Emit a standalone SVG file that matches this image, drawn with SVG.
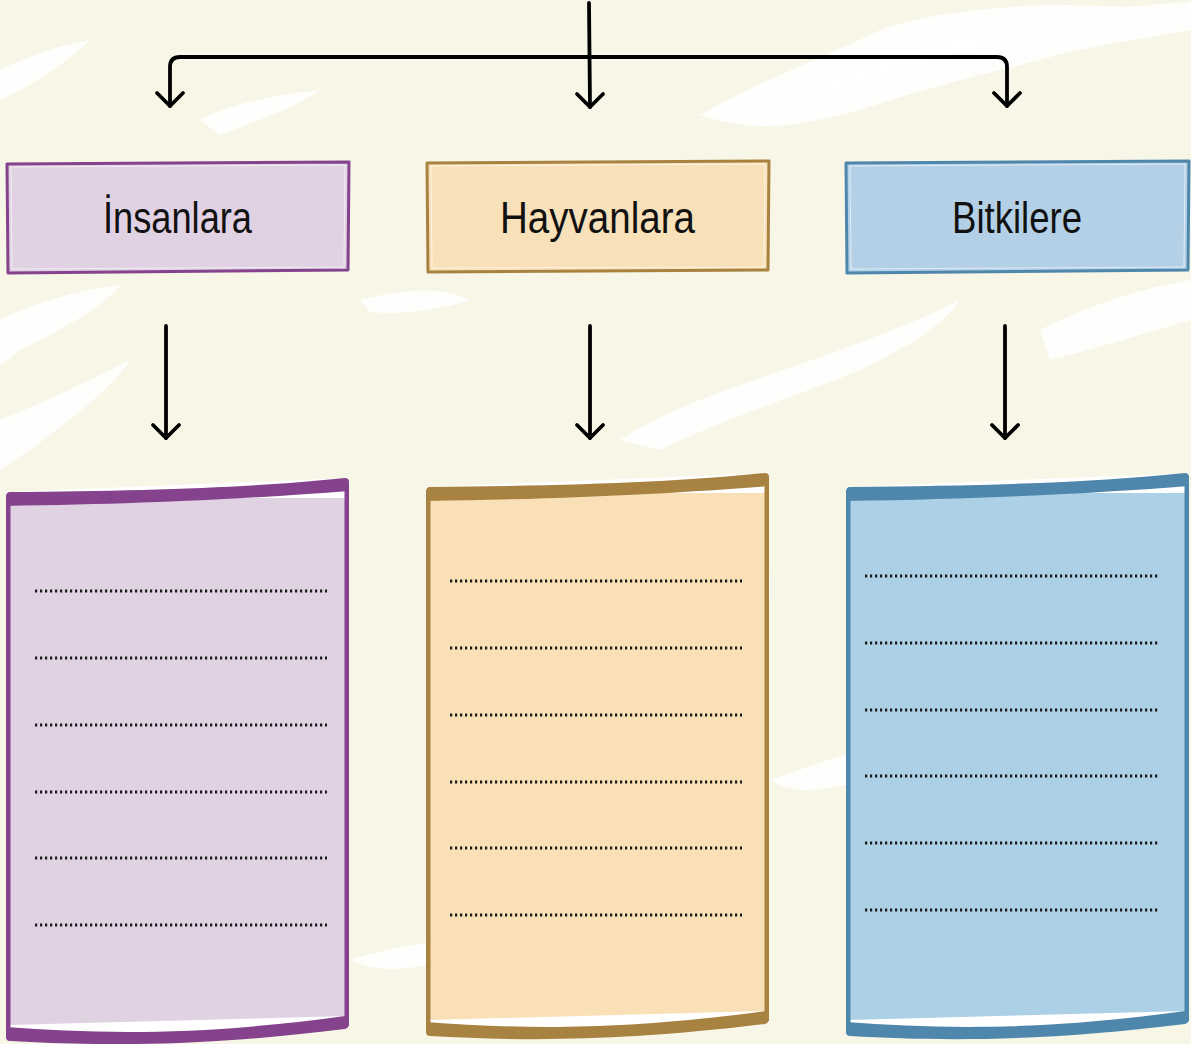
<svg xmlns="http://www.w3.org/2000/svg" width="1191" height="1044" viewBox="0 0 1191 1044">
<style>
.bg{fill:#F7F6E7}
.blob{fill:#FFFFFF;opacity:0.85}
.conn{fill:none;stroke:#000;stroke-width:3.8;stroke-linecap:round;stroke-linejoin:round}
.hdr{stroke-width:3;stroke-linejoin:round}
.inner{fill:none;stroke:#FFFFFF;stroke-width:1;opacity:0.6}
.lbl{font-family:"Liberation Sans","DejaVu Sans",sans-serif;font-size:44px;fill:#111;text-anchor:middle}
.page{fill:#FFFFFF}
.dots{fill:none;stroke:#1a1a1a;stroke-width:3.2;stroke-dasharray:2.2 2.8}
.p-fill{fill:#E0D2E3}.p-line{fill:#84438C}
.o-fill{fill:#FAE0B6}.o-line{fill:#A88241}
.b-fill{fill:#ACD1E6}.b-line{fill:#4F87AC}
.hp{fill:#E0D2E3;stroke:#84438C}.ho{fill:#F8E1B9;stroke:#A88241}.hb{fill:#B3D0E6;stroke:#4F87AC}
</style>
<rect class="bg" x="0" y="0" width="1191" height="1044"/>
<g id="texture">
<path class="blob" d="M700,115 C760,80 820,60 880,30 C930,12 990,8 1040,5 C1080,3 1120,10 1160,4 L1191,2 L1191,30 C1140,40 1090,45 1040,60 C980,75 920,90 860,110 C800,125 760,135 700,115 Z"/>
<path class="blob" d="M820,85 C880,60 940,40 1000,30 L990,45 C930,60 880,75 830,92 Z"/>
<path class="blob" d="M0,320 C40,300 80,290 120,285 C100,310 60,330 20,350 C10,360 0,365 0,365 Z"/>
<path class="blob" d="M0,420 C50,400 90,380 130,360 C110,390 70,420 30,450 L0,470 Z"/>
<path class="blob" d="M620,440 C680,400 760,380 840,350 C880,335 920,320 960,300 C940,330 900,350 860,370 C800,395 720,420 660,450 Z"/>
<path class="blob" d="M1040,330 C1080,310 1130,290 1191,280 L1191,320 C1140,335 1090,350 1050,360 Z"/>
<path class="blob" d="M200,120 C240,100 280,95 320,90 C300,105 260,120 220,135 Z"/>
<path class="blob" d="M360,300 C400,290 440,285 470,300 C440,310 400,315 370,312 Z"/>
<path class="blob" d="M0,70 C30,55 60,45 90,40 C70,60 40,80 10,95 L0,100 Z"/>
<path class="blob" d="M690,600 C720,585 750,580 770,575 L770,600 C745,605 715,610 690,600 Z"/>
<path class="blob" d="M350,960 C380,950 410,945 430,942 L430,965 C400,970 375,972 350,960 Z"/>
<path class="blob" d="M770,780 C800,770 825,760 846,755 L846,785 C820,790 795,795 770,780 Z"/>
</g>
<g id="connectors">
<path class="conn" d="M589,3 L590,107"/>
<path class="conn" d="M577,94 L590,107 L603,94"/>
<path class="conn" d="M170,106 L170,67 Q170,57 180,57 L997,57 Q1007,57 1007,67 L1007,106"/>
<path class="conn" d="M157,93 L170,106 L183,93"/>
<path class="conn" d="M994,93 L1007,106 L1020,93"/>
<path class="conn" d="M166,326 L166,438"/>
<path class="conn" d="M153,425 L166,438 L179,425"/>
<path class="conn" d="M590,326 L590,438"/>
<path class="conn" d="M577,425 L590,438 L603,425"/>
<path class="conn" d="M1005,326 L1005,438"/>
<path class="conn" d="M992,425 L1005,438 L1018,425"/>
</g>
<g id="node-insanlara">
<path class="hdr hp" d="M7,164 L349,162 L348,270 L8,273 Z"/>
<path class="inner" d="M11,167 L345,165 L344,267 L12,269 Z"/>
<text class="lbl" x="177.5" y="233" textLength="149" lengthAdjust="spacingAndGlyphs">İnsanlara</text>
</g>
<g id="node-hayvanlara">
<path class="hdr ho" d="M427,163 L769,161 L768,270 L428,272 Z"/>
<path class="inner" d="M431,166 L765,164 L764,267 L432,268 Z"/>
<text class="lbl" x="597.5" y="233" textLength="195" lengthAdjust="spacingAndGlyphs">Hayvanlara</text>
</g>
<g id="node-bitkilere">
<path class="hdr hb" d="M846,163 L1189,161 L1188,270 L847,273 Z"/>
<path class="inner" d="M850,166 L1185,164 L1184,267 L851,269 Z"/>
<text class="lbl" x="1017" y="233" textLength="130" lengthAdjust="spacingAndGlyphs">Bitkilere</text>
</g>
<g id="node-card-insanlara">
<g>
<path class="page" d="M6,492 L349,478 L349,1028 L6,1040 Z"/>
<path class="p-fill" d="M8,498 L347,498 L347,1016 L8,1025 Z"/>
<path class="p-line" d="M6,497 Q6,492 10,492 C150,491 260,487 345,478 Q349,478 349,482 L349,491 C260,498 150,504 6,506 Z"/>
<rect class="p-line" x="6" y="495" width="4.5" height="543"/>
<rect class="p-line" x="344.5" y="481" width="4.5" height="545"/>
<path class="p-line" d="M6,1027 C100,1034 200,1036 345,1016 L349,1015 L349,1024 Q349,1028 345,1029 C200,1047 100,1046 10,1041 Q6,1041 6,1037 Z"/>
</g>
<path class="dots" d="M35,591 H327 M35,658 H327 M35,725 H327 M35,792 H327 M35,858 H327 M35,925 H327"/>
</g>
<g id="node-card-hayvanlara">
<g transform="translate(420,-5)">
<path class="page" d="M6,492 L349,478 L349,1028 L6,1040 Z"/>
<path class="o-fill" d="M8,498 L347,498 L347,1016 L8,1025 Z"/>
<path class="o-line" d="M6,497 Q6,492 10,492 C150,491 260,487 345,478 Q349,478 349,482 L349,491 C260,498 150,504 6,506 Z"/>
<rect class="o-line" x="6" y="495" width="4.5" height="543"/>
<rect class="o-line" x="344.5" y="481" width="4.5" height="545"/>
<path class="o-line" d="M6,1027 C100,1034 200,1036 345,1016 L349,1015 L349,1024 Q349,1028 345,1029 C200,1047 100,1046 10,1041 Q6,1041 6,1037 Z"/>
</g>
<path class="dots" d="M450,581 H742 M450,648 H742 M450,715 H742 M450,782 H742 M450,848 H742 M450,915 H742"/>
</g>
<g id="node-card-bitkilere">
<g transform="translate(840,-5)">
<path class="page" d="M6,492 L349,478 L349,1028 L6,1040 Z"/>
<path class="b-fill" d="M8,498 L347,498 L347,1016 L8,1025 Z"/>
<path class="b-line" d="M6,497 Q6,492 10,492 C150,491 260,487 345,478 Q349,478 349,482 L349,491 C260,498 150,504 6,506 Z"/>
<rect class="b-line" x="6" y="495" width="4.5" height="543"/>
<rect class="b-line" x="344.5" y="481" width="4.5" height="545"/>
<path class="b-line" d="M6,1027 C100,1034 200,1036 345,1016 L349,1015 L349,1024 Q349,1028 345,1029 C200,1047 100,1046 10,1041 Q6,1041 6,1037 Z"/>
</g>
<path class="dots" d="M865,576 H1158 M865,643 H1158 M865,710 H1158 M865,776 H1158 M865,843 H1158 M865,910 H1158"/>
</g>
</svg>
